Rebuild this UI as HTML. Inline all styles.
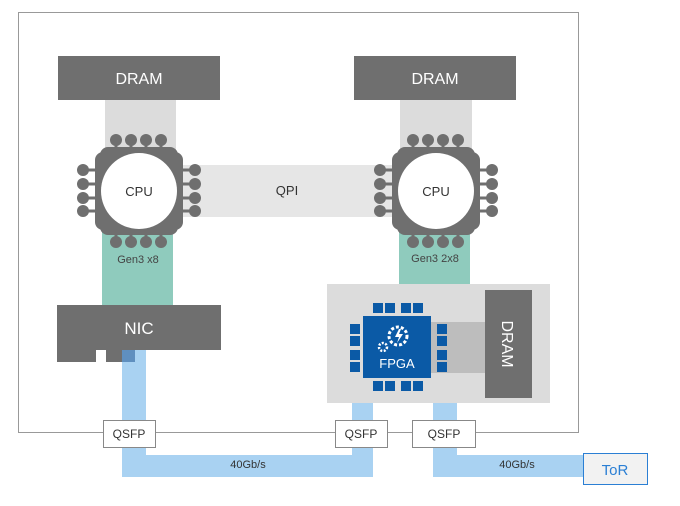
<!DOCTYPE html>
<html><head><style>body{margin:0;background:#fff}svg{display:block}text{font-family:"Liberation Sans",sans-serif}</style></head><body>
<svg width="680" height="506" viewBox="0 0 680 506">
<defs>
<g id="chip">
<g fill="#6f6f6f">
<rect x="-44" y="-39" width="88" height="78" rx="8"/>
<rect x="-39" y="-44" width="78" height="88" rx="8"/>
<g stroke="#6f6f6f" stroke-width="3">
<line x1="-23" y1="-50" x2="-23" y2="-40"/><line x1="-8" y1="-50" x2="-8" y2="-40"/><line x1="7" y1="-50" x2="7" y2="-40"/><line x1="22" y1="-50" x2="22" y2="-40"/>
<line x1="-23" y1="50" x2="-23" y2="40"/><line x1="-8" y1="50" x2="-8" y2="40"/><line x1="7" y1="50" x2="7" y2="40"/><line x1="22" y1="50" x2="22" y2="40"/>
<line x1="-55" y1="-21" x2="-40" y2="-21"/><line x1="-55" y1="-7" x2="-40" y2="-7"/><line x1="-55" y1="7" x2="-40" y2="7"/><line x1="-55" y1="20" x2="-40" y2="20"/>
<line x1="55" y1="-21" x2="40" y2="-21"/><line x1="55" y1="-7" x2="40" y2="-7"/><line x1="55" y1="7" x2="40" y2="7"/><line x1="55" y1="20" x2="40" y2="20"/>
</g>
<circle cx="-23" cy="-51" r="6"/><circle cx="-8" cy="-51" r="6"/><circle cx="7" cy="-51" r="6"/><circle cx="22" cy="-51" r="6"/>
<circle cx="-23" cy="51" r="6"/><circle cx="-8" cy="51" r="6"/><circle cx="7" cy="51" r="6"/><circle cx="22" cy="51" r="6"/>
<circle cx="-56" cy="-21" r="6"/><circle cx="-56" cy="-7" r="6"/><circle cx="-56" cy="7" r="6"/><circle cx="-56" cy="20" r="6"/>
<circle cx="56" cy="-21" r="6"/><circle cx="56" cy="-7" r="6"/><circle cx="56" cy="7" r="6"/><circle cx="56" cy="20" r="6"/>
</g>
<circle cx="0" cy="0" r="38" fill="#fff"/>
<text x="0" y="5" text-anchor="middle" font-size="13" fill="#333">CPU</text>
</g>
</defs>
<rect x="18.5" y="12.5" width="560" height="420" fill="#fff" stroke="#999"/>
<!-- strips -->
<rect x="105" y="100" width="71" height="60" fill="#dcdcdc"/>
<rect x="400" y="100" width="72" height="60" fill="#dcdcdc"/>
<rect x="175" y="165" width="225" height="52" fill="#e6e6e6"/>
<text x="287" y="195" text-anchor="middle" font-size="13" fill="#333">QPI</text>
<rect x="102" y="228" width="71" height="78" fill="#8fcbbd"/>
<rect x="399" y="228" width="71" height="57" fill="#8fcbbd"/>
<text x="138" y="263" text-anchor="middle" font-size="11" fill="#444">Gen3 x8</text>
<text x="435" y="262" text-anchor="middle" font-size="11" fill="#444">Gen3 2x8</text>
<!-- DRAM -->
<rect x="58" y="56" width="162" height="44" fill="#6f6f6f"/>
<text x="139" y="84" text-anchor="middle" font-size="16" fill="#fff">DRAM</text>
<rect x="354" y="56" width="162" height="44" fill="#6f6f6f"/>
<text x="435" y="84" text-anchor="middle" font-size="16" fill="#fff">DRAM</text>
<use href="#chip" x="139" y="191"/>
<use href="#chip" x="436" y="191"/>
<!-- blue links -->
<g fill="#a9d2f2">
<rect x="122" y="350" width="24" height="127"/>
<rect x="122" y="455" width="251" height="22"/>
<rect x="352" y="400" width="21" height="77"/>
<rect x="433" y="400" width="24" height="77"/>
<rect x="433" y="455" width="152" height="22"/>
</g>
<rect x="122" y="350" width="13" height="12" fill="#5f8fbf"/>
<!-- NIC -->
<rect x="57" y="305" width="164" height="45" fill="#6f6f6f"/>
<rect x="57" y="349" width="39" height="13" fill="#6f6f6f"/>
<rect x="106" y="349" width="16" height="13" fill="#6f6f6f"/>
<text x="139" y="334" text-anchor="middle" font-size="17" fill="#fff">NIC</text>
<!-- FPGA panel -->
<rect x="327" y="284" width="223" height="119" fill="#dcdcdc"/>
<rect x="431" y="322" width="55" height="51" fill="#bdbdbd"/>
<rect x="485" y="290" width="47" height="108" fill="#6f6f6f"/>
<text transform="translate(502,344) rotate(90)" text-anchor="middle" font-size="16" fill="#fff">DRAM</text>
<g fill="#0b5aa6">
<rect x="373" y="303" width="10" height="10"/><rect x="385" y="303" width="10" height="10"/><rect x="401" y="303" width="10" height="10"/><rect x="413" y="303" width="10" height="10"/>
<rect x="373" y="381" width="10" height="10"/><rect x="385" y="381" width="10" height="10"/><rect x="401" y="381" width="10" height="10"/><rect x="413" y="381" width="10" height="10"/>
<rect x="350" y="324" width="10" height="10"/><rect x="350" y="336" width="10" height="10"/><rect x="350" y="350" width="10" height="10"/><rect x="350" y="362" width="10" height="10"/>
<rect x="437" y="324" width="10" height="10"/><rect x="437" y="336" width="10" height="10"/><rect x="437" y="350" width="10" height="10"/><rect x="437" y="362" width="10" height="10"/>
<rect x="363" y="316" width="68" height="62"/>
</g>
<circle cx="398" cy="336" r="9" fill="none" stroke="#fff" stroke-width="3" stroke-dasharray="3 2"/>
<path d="M399 329 l-4 8 h4 l-2 6 l6 -9 h-4 l2 -5z" fill="#fff"/>
<circle cx="383" cy="347" r="4" fill="none" stroke="#fff" stroke-width="2.5" stroke-dasharray="2 1.5"/>
<text x="397" y="368" text-anchor="middle" font-size="13" fill="#fff">FPGA</text>
<!-- QSFP -->
<g fill="#fff" stroke="#888">
<rect x="103.5" y="420.5" width="52" height="27"/>
<rect x="335.5" y="420.5" width="52" height="27"/>
<rect x="412.5" y="420.5" width="63" height="27"/>
</g>
<g font-size="12" fill="#333" text-anchor="middle">
<text x="129" y="438">QSFP</text><text x="361" y="438">QSFP</text><text x="444" y="438">QSFP</text>
<text x="248" y="468" font-size="11">40Gb/s</text><text x="517" y="468" font-size="11">40Gb/s</text>
</g>
<rect x="583.5" y="453.5" width="64" height="31" fill="#f2f2f2" stroke="#2b7fd4"/>
<text x="615" y="475" text-anchor="middle" font-size="15" fill="#2b7fd4">ToR</text>
</svg>
</body></html>
